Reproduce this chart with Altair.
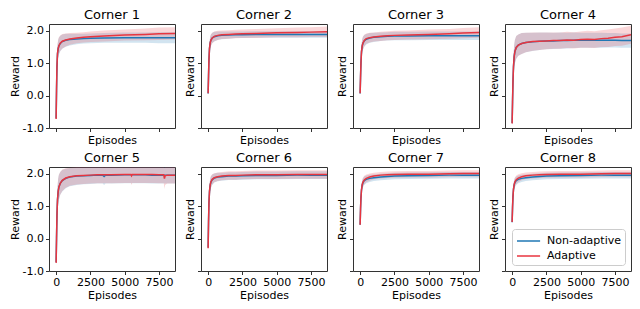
import altair as alt
import pandas as pd

SERIES = ["Non-adaptive", "Adaptive"]
COLORS = ["#1f77b4", "#e8353f"]
TITLES = ["Corner 1", "Corner 2", "Corner 3", "Corner 4",
          "Corner 5", "Corner 6", "Corner 7", "Corner 8"]
X_TICKS = [0, 2500, 5000, 7500]
Y_TICKS = [-1.0, 0.0, 1.0, 2.0]
X_DOMAIN = [-520, 8670]
Y_DOMAIN = [-1.0, 2.2]

EP = [0, 30, 60, 100, 150, 200, 300, 450, 700, 1000, 1500, 2000, 2500, 3500, 5000, 6500, 7500, 8670]

C1_NON = [-0.70, 0.15, 0.85, 1.28, 1.44, 1.52, 1.60, 1.66, 1.70, 1.72, 1.74, 1.75, 1.76, 1.77, 1.78, 1.78, 1.78, 1.78]
C1_NON_SD = [0.05, 0.15, 0.25, 0.28, 0.27, 0.26, 0.24, 0.22, 0.20, 0.18, 0.16, 0.15, 0.15, 0.15, 0.16, 0.16, 0.17, 0.17]
C1_ADA = [-0.72, 0.20, 0.90, 1.30, 1.45, 1.53, 1.61, 1.67, 1.71, 1.74, 1.77, 1.79, 1.81, 1.83, 1.86, 1.88, 1.90, 1.91]
C1_ADA_SD = [0.05, 0.15, 0.25, 0.28, 0.27, 0.26, 0.24, 0.22, 0.20, 0.18, 0.16, 0.16, 0.16, 0.17, 0.17, 0.18, 0.19, 0.19]

C2_NON = [0.06, 0.60, 1.10, 1.45, 1.62, 1.70, 1.77, 1.81, 1.84, 1.85, 1.86, 1.87, 1.87, 1.88, 1.88, 1.88, 1.88, 1.88]
C2_NON_SD = [0.05, 0.12, 0.18, 0.20, 0.19, 0.18, 0.16, 0.15, 0.13, 0.12, 0.11, 0.10, 0.10, 0.10, 0.10, 0.10, 0.10, 0.10]
C2_ADA = [0.07, 0.60, 1.10, 1.45, 1.62, 1.70, 1.77, 1.82, 1.85, 1.87, 1.88, 1.89, 1.90, 1.91, 1.93, 1.94, 1.95, 1.96]
C2_ADA_SD = [0.05, 0.12, 0.18, 0.20, 0.19, 0.18, 0.16, 0.15, 0.14, 0.13, 0.13, 0.13, 0.13, 0.14, 0.14, 0.15, 0.15, 0.16]

C3_NON = [0.06, 0.55, 1.00, 1.35, 1.52, 1.60, 1.68, 1.73, 1.77, 1.79, 1.81, 1.82, 1.83, 1.83, 1.84, 1.84, 1.84, 1.84]
C3_NON_SD = [0.05, 0.14, 0.20, 0.22, 0.21, 0.20, 0.18, 0.16, 0.15, 0.14, 0.13, 0.13, 0.13, 0.13, 0.13, 0.13, 0.13, 0.13]
C3_ADA = [0.07, 0.55, 1.00, 1.35, 1.52, 1.61, 1.69, 1.75, 1.78, 1.80, 1.82, 1.84, 1.85, 1.86, 1.88, 1.90, 1.92, 1.94]
C3_ADA_SD = [0.05, 0.14, 0.20, 0.22, 0.21, 0.20, 0.18, 0.16, 0.15, 0.14, 0.14, 0.14, 0.14, 0.14, 0.15, 0.15, 0.16, 0.16]

EP4 = [0, 30, 60, 100, 150, 200, 300, 450, 700, 1000, 1500, 2000, 2500, 3000, 3500, 4000, 4500, 5000,
       5500, 6000, 6500, 7000, 7500, 8000, 8670]
C4_NON = [-0.85, -0.20, 0.40, 0.90, 1.20, 1.35, 1.48, 1.55, 1.60, 1.63, 1.65, 1.67, 1.68, 1.68, 1.69, 1.69,
          1.70, 1.70, 1.70, 1.70, 1.70, 1.70, 1.70, 1.69, 1.69]
C4_NON_SD = [0.10, 0.20, 0.30, 0.35, 0.36, 0.36, 0.35, 0.33, 0.32, 0.30, 0.28, 0.27, 0.26, 0.25, 0.25, 0.24,
             0.24, 0.23, 0.23, 0.23, 0.23, 0.22, 0.22, 0.22, 0.22]
C4_ADA = [-0.86, -0.20, 0.40, 0.90, 1.20, 1.35, 1.48, 1.55, 1.60, 1.63, 1.66, 1.67, 1.68, 1.69, 1.69, 1.71,
          1.70, 1.72, 1.73, 1.72, 1.75, 1.76, 1.79, 1.81, 1.87]
C4_ADA_SD = [0.10, 0.20, 0.30, 0.35, 0.36, 0.36, 0.35, 0.33, 0.32, 0.30, 0.28, 0.27, 0.26, 0.25, 0.25, 0.25,
             0.25, 0.25, 0.26, 0.26, 0.26, 0.27, 0.27, 0.28, 0.28]

EP5 = [0, 30, 60, 100, 150, 200, 300, 450, 700, 1000, 1500, 2000, 2500, 3000, 3400, 3500, 3600, 4000,
       5000, 5450, 5500, 5550, 6000, 6500, 7000, 7500, 7850, 7900, 7950, 8100, 8670]
C5_NON = [-0.73, 0.00, 0.70, 1.20, 1.45, 1.58, 1.70, 1.78, 1.85, 1.89, 1.92, 1.93, 1.94, 1.95, 1.95, 1.91,
          1.95, 1.95, 1.96, 1.96, 1.96, 1.96, 1.96, 1.96, 1.95, 1.95, 1.95, 1.95, 1.95, 1.95, 1.95]
C5_NON_SD = [0.10, 0.25, 0.35, 0.40, 0.40, 0.38, 0.35, 0.33, 0.30, 0.28, 0.27, 0.26, 0.26, 0.26, 0.26, 0.26,
             0.26, 0.26, 0.26, 0.26, 0.26, 0.26, 0.26, 0.26, 0.26, 0.26, 0.26, 0.26, 0.26, 0.26, 0.26]
C5_ADA = [-0.75, 0.00, 0.70, 1.20, 1.45, 1.58, 1.70, 1.79, 1.86, 1.90, 1.93, 1.94, 1.95, 1.96, 1.96, 1.96,
          1.96, 1.96, 1.97, 1.97, 1.93, 1.97, 1.97, 1.97, 1.97, 1.96, 1.96, 1.84, 1.93, 1.95, 1.95]
C5_ADA_SD = [0.10, 0.25, 0.35, 0.40, 0.40, 0.38, 0.35, 0.33, 0.30, 0.28, 0.27, 0.26, 0.26, 0.26, 0.26, 0.26,
             0.26, 0.26, 0.26, 0.26, 0.28, 0.26, 0.26, 0.26, 0.26, 0.26, 0.26, 0.32, 0.28, 0.26, 0.26]

C6_NON = [-0.28, 0.50, 1.10, 1.45, 1.64, 1.73, 1.81, 1.86, 1.89, 1.90, 1.92, 1.92, 1.93, 1.94, 1.94, 1.95, 1.95, 1.95]
C6_NON_SD = [0.05, 0.15, 0.20, 0.22, 0.20, 0.18, 0.16, 0.14, 0.13, 0.12, 0.12, 0.12, 0.12, 0.12, 0.12, 0.12, 0.12, 0.12]
C6_ADA = [-0.30, 0.50, 1.10, 1.45, 1.65, 1.74, 1.82, 1.87, 1.90, 1.92, 1.94, 1.94, 1.95, 1.96, 1.96, 1.97, 1.97, 1.97]
C6_ADA_SD = [0.05, 0.15, 0.20, 0.22, 0.20, 0.18, 0.16, 0.14, 0.13, 0.13, 0.13, 0.13, 0.13, 0.13, 0.13, 0.13, 0.13, 0.13]

C7_NON = [0.42, 0.90, 1.25, 1.50, 1.64, 1.71, 1.78, 1.82, 1.85, 1.87, 1.89, 1.91, 1.92, 1.93, 1.94, 1.95, 1.95, 1.95]
C7_NON_SD = [0.05, 0.12, 0.15, 0.16, 0.15, 0.14, 0.13, 0.12, 0.11, 0.10, 0.10, 0.10, 0.10, 0.10, 0.10, 0.10, 0.10, 0.10]
C7_ADA = [0.42, 0.90, 1.25, 1.50, 1.65, 1.73, 1.80, 1.85, 1.89, 1.92, 1.95, 1.96, 1.97, 1.98, 1.98, 1.99, 2.00, 2.00]
C7_ADA_SD = [0.05, 0.12, 0.15, 0.16, 0.15, 0.14, 0.13, 0.12, 0.11, 0.10, 0.10, 0.10, 0.10, 0.10, 0.10, 0.10, 0.10, 0.10]

C8_NON = [0.50, 0.95, 1.28, 1.52, 1.65, 1.72, 1.78, 1.82, 1.85, 1.87, 1.89, 1.91, 1.92, 1.93, 1.94, 1.95, 1.95, 1.95]
C8_NON_SD = [0.05, 0.12, 0.15, 0.16, 0.15, 0.14, 0.13, 0.12, 0.11, 0.10, 0.10, 0.10, 0.10, 0.10, 0.10, 0.10, 0.10, 0.10]
C8_ADA = [0.51, 0.95, 1.28, 1.52, 1.66, 1.74, 1.81, 1.86, 1.90, 1.93, 1.95, 1.96, 1.97, 1.98, 1.98, 1.99, 2.00, 2.00]
C8_ADA_SD = [0.05, 0.12, 0.15, 0.16, 0.15, 0.14, 0.13, 0.12, 0.11, 0.10, 0.10, 0.10, 0.10, 0.10, 0.10, 0.10, 0.10, 0.10]

PANELS = [
    (EP, C1_NON, C1_NON_SD, C1_ADA, C1_ADA_SD),
    (EP, C2_NON, C2_NON_SD, C2_ADA, C2_ADA_SD),
    (EP, C3_NON, C3_NON_SD, C3_ADA, C3_ADA_SD),
    (EP4, C4_NON, C4_NON_SD, C4_ADA, C4_ADA_SD),
    (EP5, C5_NON, C5_NON_SD, C5_ADA, C5_ADA_SD),
    (EP, C6_NON, C6_NON_SD, C6_ADA, C6_ADA_SD),
    (EP, C7_NON, C7_NON_SD, C7_ADA, C7_ADA_SD),
    (EP, C8_NON, C8_NON_SD, C8_ADA, C8_ADA_SD),
]

W, H = 126, 104

LABEL_EXPR = "datum.value < 0 ? '-' + format(-datum.value, '.1f') : format(datum.value, '.1f')"


def make_panel(idx, ep, non, non_sd, ada, ada_sd):
    rows = []
    for s, m, sd in ((SERIES[0], non, non_sd), (SERIES[1], ada, ada_sd)):
        for e, v, d in zip(ep, m, sd):
            rows.append({"series": s, "ep": e, "mean": v, "lo": v - d, "hi": v + d})
    df = pd.DataFrame(rows)
    r, c = divmod(idx, 4)
    xaxis = alt.Axis(values=X_TICKS, labels=(r == 1), title="Episodes", format="d")
    yaxis = alt.Axis(values=Y_TICKS, labels=(c == 0), title="Reward", labelExpr=LABEL_EXPR)
    xs = alt.Scale(domain=X_DOMAIN, nice=False, zero=False)
    ys = alt.Scale(domain=Y_DOMAIN, nice=False, zero=False)
    if idx == 7:
        legend = alt.Legend(orient="bottom-right", title=None, symbolType="M-1,0H2.3",
                            symbolSize=196, symbolStrokeWidth=1.5, labelFontSize=11,
                            labelOffset=15, fillColor="white", strokeColor="#cccccc",
                            padding=4, cornerRadius=3, offset=6, rowPadding=2)
    else:
        legend = None
    color = alt.Color("series:N", scale=alt.Scale(domain=SERIES, range=COLORS), legend=legend)
    base = alt.Chart(df)
    layers = []
    for s, col in zip(SERIES, COLORS):
        layers.append(
            base.transform_filter(alt.datum.series == s)
            .mark_area(opacity=0.2, clip=True, color=col)
            .encode(x=alt.X("ep:Q", scale=xs, axis=xaxis),
                    y=alt.Y("lo:Q", scale=ys, axis=yaxis),
                    y2="hi:Q")
        )
    for s in SERIES:
        layers.append(
            base.transform_filter(alt.datum.series == s)
            .mark_line(strokeWidth=1.5, clip=True)
            .encode(x=alt.X("ep:Q", scale=xs, axis=xaxis),
                    y=alt.Y("mean:Q", scale=ys, axis=yaxis),
                    color=color)
        )
    return alt.layer(*layers).properties(width=W, height=H, title=TITLES[idx])


panels = [make_panel(i, *p) for i, p in enumerate(PANELS)]

chart = (
    alt.concat(*panels, columns=4, spacing={"row": 39, "column": 26}, bounds="flush")
    .properties(padding=0)
    .resolve_scale(color="independent")
    .resolve_legend(color="independent")
    .configure(font="DejaVu Sans")
    .configure_view(stroke="#333333", strokeWidth=1)
    .configure_axis(grid=False, domain=False, tickColor="#333333", tickSize=3.5, tickWidth=1,
                    labelFontSize=11, titleFontSize=11, labelColor="black", titleColor="black",
                    titleFontWeight="normal", labelPadding=2, titlePadding=2)
    .configure_title(fontSize=13, fontWeight="normal", offset=2, color="black")
    .configure_legend(labelColor="black")
)

chart.save("out.html", embed_options={"renderer": "svg", "actions": False})
